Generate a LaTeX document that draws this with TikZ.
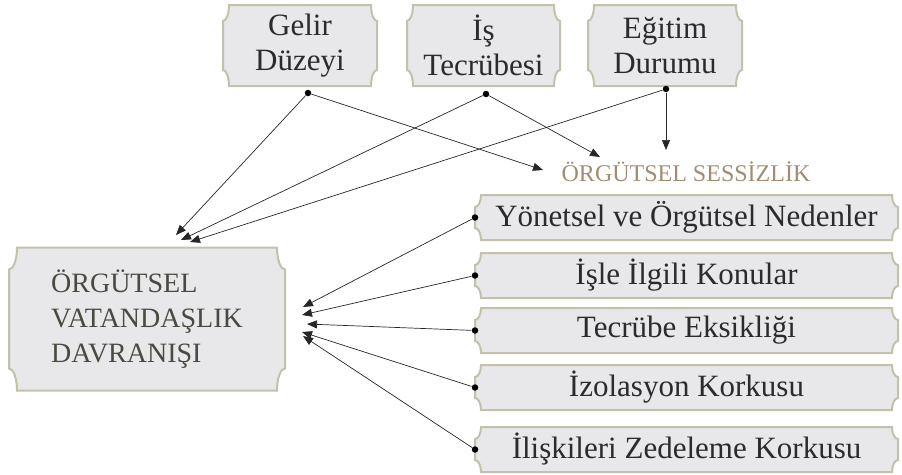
\documentclass[tikz,border=0pt]{standalone}
\usepackage{fontspec}
\setmainfont{Liberation Serif}
\usepackage{tikz}
\usetikzlibrary{arrows.meta,backgrounds,positioning}
\definecolor{kutudolgu}{HTML}{E8E8EA}
\definecolor{kutucizgi}{HTML}{C3C0AC}
\definecolor{baslik}{HTML}{A28D72}
\definecolor{yazi}{HTML}{2B2B2B}
\definecolor{ovdyazi}{HTML}{4A4A42}
\begin{document}
\begin{tikzpicture}[x=1pt,y=-1pt,line width=.7pt,
  kutu/.style={draw=none,outer sep=0pt,inner sep=0pt,text=yazi,
    font=\fontsize{31}{35}\selectfont,align=center},
  cerceve/.style={fill=kutudolgu,draw=kutucizgi,line width=2pt},
  nokta/.style={circle,fill=black,inner sep=0pt,minimum size=6.5pt},
  ok/.style={draw=black!85,-{Triangle[length=10pt,width=8pt]}}]
\useasboundingbox (0,0) rectangle (902,474);
% Üst sıradaki demografik değişkenler.
\node[kutu,minimum width=154,minimum height=81] (gelir) at (300,45.5) {Gelir\\Düzeyi};
\node[kutu,minimum width=153,minimum height=81] (is) at (483.5,45.5) {İş\\Tecrübesi};
\node[kutu,minimum width=154,minimum height=81] (egitim) at (665,45.5) {Eğitim\\Durumu};
\node[nokta] (gelird) at (308,93) {};
\node[nokta] (isd) at (486,94) {};
\node[nokta] (egitimd) at (666,89) {};
% Sol kutu ve başlık.
\node[kutu,minimum width=276,minimum height=143,align=left,text=ovdyazi,
  font=\fontsize{28}{35}\selectfont] (ovd) at (147,319) {ÖRGÜTSEL\\VATANDAŞLIK\\DAVRANIŞI};
\node[text=baslik,font=\fontsize{24}{26}\selectfont] (ses) at (686,172) {ÖRGÜTSEL SESSİZLİK};
% Sağdaki sessizlik nedenleri.
\node[kutu,minimum width=423,minimum height=45] (ynt) at (686.5,217.5) {Yönetsel ve Örgütsel Nedenler};
\node[kutu,minimum width=423,minimum height=45] (isle) at (686.5,275.5) {İşle İlgili Konular};
\node[kutu,minimum width=423,minimum height=45] (tec) at (686.5,330.5) {Tecrübe Eksikliği};
\node[kutu,minimum width=423,minimum height=45] (izo) at (686.5,387.5) {İzolasyon Korkusu};
\node[kutu,minimum width=423,minimum height=45] (ilis) at (686.5,449.5) {İlişkileri Zedeleme Korkusu};
\foreach \n in {ynt,isle,tec,izo,ilis}
  \node[nokta] (\n-d) at (\n.west) {};
% Ok uçları.
\coordinate (a1) at (176,235);
\coordinate (a2) at (181,240);
\coordinate (a3) at (190,242);
\coordinate (b1) at (543,170);
\coordinate (b2) at (600,157);
\coordinate (b3) at (666,150);
\coordinate (c1) at (303,307);
\coordinate (c2) at (302,315);
\coordinate (c3) at (307,324);
\coordinate (c4) at (302,332);
\coordinate (c5) at (303,336);
\draw[ok] (gelird) -- (a1);
\draw[ok] (isd) -- (a2);
\draw[ok] (egitimd) -- (a3);
\draw[ok] (gelird) -- (b1);
\draw[ok] (isd) -- (b2);
\draw[ok] (egitimd) -- (b3);
\draw[ok] (ynt-d) -- (c1);
\draw[ok] (isle-d) -- (c2);
\draw[ok] (tec-d) -- (c3);
\draw[ok] (izo-d) -- (c4);
\draw[ok] (ilis-d) -- (c5);
% İçbükey köşeli çerçeveler.
\begin{scope}[on background layer]
\foreach \n/\rx/\ry in {gelir/6/16,is/6/16,egitim/6/16,ovd/8/22,
    ynt/6/12,isle/6/12,tec/6/12,izo/6/12,ilis/6/12}
  \path[cerceve] ([xshift=\rx pt]\n.north west) -- ([xshift=-\rx pt]\n.north east)
    arc[start angle=180,end angle=270,x radius=\rx pt,y radius=\ry pt]
    -- ([yshift=\ry pt]\n.south east)
    arc[start angle=90,end angle=180,x radius=\rx pt,y radius=\ry pt]
    -- ([xshift=\rx pt]\n.south west)
    arc[start angle=0,end angle=90,x radius=\rx pt,y radius=\ry pt]
    -- ([yshift=-\ry pt]\n.north west)
    arc[start angle=270,end angle=360,x radius=\rx pt,y radius=\ry pt]
    -- cycle;
\end{scope}
\end{tikzpicture}
\end{document}
